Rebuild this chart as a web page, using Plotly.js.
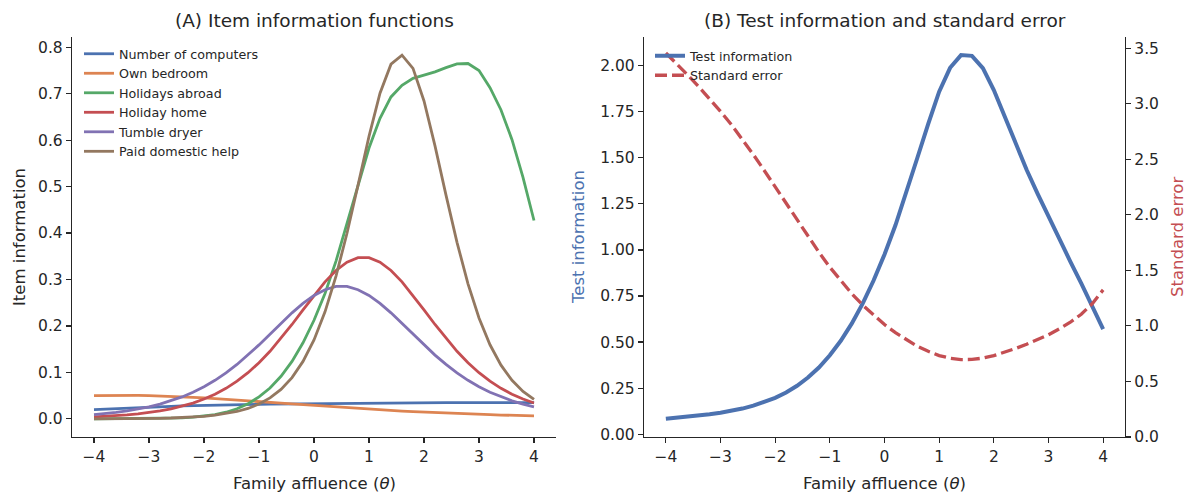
<!DOCTYPE html>
<html>
<head>
<meta charset="utf-8">
<script src="https://cdn.plot.ly/plotly-3.0.1.min.js"></script>
<style>html,body{margin:0;padding:0;background:#fff;}#chart{width:1186px;height:492px;}</style>
</head>
<body>
<div id="chart"></div>
<script>
// Ability grid (theta)
const theta = [-4.0,-3.8,-3.6,-3.4,-3.2,-3.0,-2.8,-2.6,-2.4,-2.2,-2.0,-1.8,-1.6,-1.4,-1.2,-1.0,-0.8,-0.6,-0.4,-0.2,
  0.0,0.2,0.4,0.6,0.8,1.0,1.2,1.4,1.6,1.8,2.0,2.2,2.4,2.6,2.8,3.0,3.2,3.4,3.6,3.8,4.0];

// Item information values
const computers = [0.0200,0.0212,0.0224,0.0235,0.0245,0.0255,0.0263,0.0271,0.0278,0.0285,0.0291,0.0296,0.0301,0.0306,0.0310,0.0314,0.0318,0.0321,0.0324,0.0327,
  0.0330,0.0332,0.0335,0.0337,0.0339,0.0341,0.0343,0.0344,0.0346,0.0347,0.0348,0.0349,0.0350,0.0350,0.0351,0.0351,0.0351,0.0351,0.0350,0.0350,0.0349];
const bedroom = [0.0500,0.0504,0.0506,0.0506,0.0504,0.0500,0.0494,0.0486,0.0477,0.0465,0.0453,0.0439,0.0424,0.0408,0.0392,0.0375,0.0357,0.0340,0.0322,0.0305,
  0.0288,0.0271,0.0255,0.0239,0.0223,0.0209,0.0195,0.0181,0.0168,0.0156,0.0145,0.0134,0.0124,0.0115,0.0106,0.0098,0.0090,0.0083,0.0077,0.0070,0.0065];
const abroad = [0.0000,0.0001,0.0001,0.0002,0.0003,0.0005,0.0008,0.0013,0.0022,0.0036,0.0058,0.0092,0.0143,0.0217,0.0324,0.0474,0.0665,0.0916,0.1237,0.1637,
  0.2122,0.2698,0.3396,0.4190,0.5000,0.5830,0.6470,0.6930,0.7180,0.7330,0.7400,0.7470,0.7560,0.7640,0.7650,0.7500,0.7130,0.6650,0.6010,0.5200,0.4270];
const holidayHome = [0.0043,0.0054,0.0068,0.0086,0.0109,0.0137,0.0172,0.0217,0.0272,0.0341,0.0427,0.0531,0.0658,0.0812,0.0994,0.1209,0.1455,0.1732,0.2032,0.2346,
  0.2658,0.2949,0.3195,0.3374,0.3469,0.3469,0.3374,0.3195,0.2949,0.2658,0.2346,0.2032,0.1732,0.1455,0.1209,0.0994,0.0812,0.0658,0.0531,0.0427,0.0341];
const dryer = [0.0092,0.0113,0.0140,0.0172,0.0211,0.0259,0.0317,0.0387,0.0472,0.0572,0.0691,0.0830,0.0989,0.1172,0.1373,0.1592,0.1823,0.2056,0.2283,0.2487,
  0.2658,0.2780,0.2851,0.2851,0.2780,0.2658,0.2487,0.2283,0.2056,0.1823,0.1592,0.1373,0.1172,0.0989,0.0830,0.0691,0.0572,0.0472,0.0387,0.0317,0.0259];
const domesticHelp = [0.0002,0.0002,0.0003,0.0005,0.0007,0.0009,0.0013,0.0019,0.0027,0.0039,0.0055,0.0079,0.0112,0.0159,0.0225,0.0319,0.0451,0.0635,0.0889,0.1237,
  0.1700,0.2305,0.3073,0.3995,0.5030,0.6080,0.7010,0.7635,0.7830,0.7545,0.6843,0.5877,0.4817,0.3800,0.2907,0.2172,0.1595,0.1156,0.0830,0.0592,0.0421];

// Test information and standard error
const testInfo = [0.0837,0.0886,0.0942,0.1006,0.1079,0.1165,0.1267,0.1393,0.1548,0.1738,0.1975,0.2267,0.2627,0.3074,0.3618,0.4283,0.5069,0.6000,0.7087,0.8339,
  0.9756,1.1335,1.3105,1.4986,1.6841,1.8587,1.9879,2.0568,2.0529,1.9859,1.8674,1.7235,1.5755,1.4349,1.3053,1.1806,1.0550,0.9370,0.8185,0.6956,0.5705];
const stdError = [3.456,3.359,3.258,3.153,3.044,2.930,2.810,2.679,2.542,2.399,2.250,2.100,1.951,1.804,1.663,1.528,1.405,1.291,1.188,1.095,
  1.012,0.939,0.874,0.817,0.771,0.733,0.709,0.697,0.698,0.710,0.732,0.762,0.797,0.835,0.875,0.920,0.974,1.033,1.105,1.199,1.324];

const itemNames = ["Number of computers","Own bedroom","Holidays abroad","Holiday home","Tumble dryer","Paid domestic help"];
const itemSeries = [computers, bedroom, abroad, holidayHome, dryer, domesticHelp];
const xTicks = [-4,-3,-2,-1,0,1,2,3,4];
const yTicksA = [0,0.1,0.2,0.3,0.4,0.5,0.6,0.7,0.8];
const yTicksInfo = [0,0.25,0.5,0.75,1.0,1.25,1.5,1.75,2.0];
const yTicksSE = [0,0.5,1.0,1.5,2.0,2.5,3.0,3.5];

const colors = ["#4C72B0","#DD8452","#55A868","#C44E52","#8172B3","#937860"];
const INK = "#262626";
const FONT = "DejaVu Sans, Liberation Sans, sans-serif";

const traces = itemSeries.map((vals, i) => ({
  x: theta, y: vals, type: "scatter", mode: "lines", name: itemNames[i],
  xaxis: "x", yaxis: "y", legend: "legend",
  line: {color: colors[i], width: 2.8}
}));
traces.push({
  x: theta, y: testInfo, type: "scatter", mode: "lines", name: "Test information",
  xaxis: "x2", yaxis: "y2", legend: "legend2",
  line: {color: "#4C72B0", width: 4}
});
traces.push({
  x: theta, y: stdError, type: "scatter", mode: "lines", name: "Standard error",
  xaxis: "x2", yaxis: "y3", legend: "legend2",
  line: {color: "#C44E52", width: 3.3, dash: "12px,5px"}
});

const W = 1186, TOP = 37, BOT = 437, H = BOT - TOP;
const px = v => v / W;
const py = v => (BOT - v) / H;

const axisBase = {
  showline: true, linecolor: INK, linewidth: 1.2, mirror: false,
  ticks: "outside", ticklen: 5, tickwidth: 1.2, tickcolor: INK,
  showgrid: false, zeroline: false,
  tickfont: {family: FONT, size: 15.5, color: INK}
};

const ann = (text, x, y, size, color, angle) => ({
  text: text, x: x, y: y, xref: "paper", yref: "paper", showarrow: false,
  xanchor: "center", yanchor: "middle", textangle: angle || 0,
  font: {family: FONT, size: size, color: color}
});

const layout = {
  width: 1186, height: 492,
  margin: {l: 0, r: 0, t: TOP, b: 492 - BOT, pad: 0},
  paper_bgcolor: "#ffffff", plot_bgcolor: "#ffffff",
  font: {family: FONT, color: INK},
  showlegend: true,
  xaxis: Object.assign({}, axisBase, {domain: [px(72), px(556)], range: [-4.4, 4.4], tickvals: xTicks, anchor: "y"}),
  yaxis: Object.assign({}, axisBase, {domain: [0, 1], range: [-0.039, 0.822], tickvals: yTicksA, tickformat: ".1f", anchor: "x"}),
  xaxis2: Object.assign({}, axisBase, {domain: [px(644), px(1125)], range: [-4.4, 4.4], tickvals: xTicks, anchor: "y2"}),
  yaxis2: Object.assign({}, axisBase, {domain: [0, 1], range: [-0.015, 2.155], tickvals: yTicksInfo, tickformat: ".2f", anchor: "x2"}),
  yaxis3: Object.assign({}, axisBase, {range: [0, 3.6], tickvals: yTicksSE, tickformat: ".1f", anchor: "x2", overlaying: "y2", side: "right"}),
  legend: {
    x: px(79), y: py(39), xanchor: "left", yanchor: "top", xref: "paper", yref: "paper",
    bgcolor: "rgba(0,0,0,0)", borderwidth: 0,
    font: {family: FONT, size: 12.7, color: INK}, tracegroupgap: 0
  },
  legend2: {
    x: px(650), y: py(41), xanchor: "left", yanchor: "top", xref: "paper", yref: "paper",
    bgcolor: "rgba(0,0,0,0)", borderwidth: 0,
    font: {family: FONT, size: 12.7, color: INK}, tracegroupgap: 0
  },
  annotations: [
    ann("(A) Item information functions", px(314), py(21), 18.5, INK),
    ann("(B) Test information and standard error", px(884.5), py(21), 18.5, INK),
    ann("Family affluence (<i>θ</i>)", px(314), py(483), 16.5, INK),
    ann("Family affluence (<i>θ</i>)", px(884.5), py(483), 16.5, INK),
    ann("Item information", px(19), py(237), 16.5, INK, -90),
    ann("Test information", px(578), py(237), 16.5, "#4C72B0", -90),
    ann("Standard error", px(1177), py(237), 16.5, "#C44E52", -90)
  ]
};

Plotly.newPlot("chart", traces, layout, {staticPlot: true, displayModeBar: false});
</script>
</body>
</html>
